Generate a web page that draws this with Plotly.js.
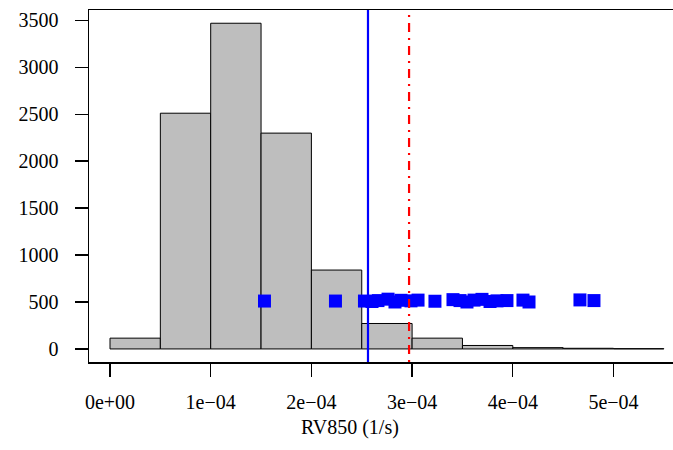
<!DOCTYPE html>
<html>
<head>
<meta charset="utf-8">
<script src="https://cdn.plot.ly/plotly-3.0.1.min.js"></script>
<style>
html,body{margin:0;padding:0;overflow:hidden;background:#fff;}
#chart{width:700px;height:450px;}
</style>
</head>
<body>
<div id="chart"></div>
<script>
// Histogram bins (left edges) and counts
var binStarts = [0, 5e-5, 1e-4, 1.5e-4, 2e-4, 2.5e-4, 3e-4, 3.5e-4, 4e-4, 4.5e-4, 5e-4];
var binWidth = 5e-5;
var counts = [115, 2510, 3468, 2298, 840, 271, 115, 37, 14, 7, 3];

// Observed values shown as squares
var obsX = [1.534e-4, 2.239e-4, 2.527e-4, 2.602e-4, 2.661e-4, 2.761e-4, 2.830e-4, 2.890e-4,
            2.989e-4, 3.059e-4, 3.227e-4, 3.406e-4, 3.476e-4, 3.545e-4, 3.615e-4, 3.694e-4,
            3.774e-4, 3.843e-4, 3.942e-4, 4.101e-4, 4.161e-4, 4.667e-4, 4.806e-4];
var obsY = [510, 510, 510, 505, 515, 530, 500, 518, 512, 520, 508, 525, 515, 500, 520, 528,
            505, 512, 515, 520, 500, 522, 515];

// Reference lines
var meanValue = 2.562e-4;
var thresholdValue = 2.97e-4;

var xTickVals = [0, 1e-4, 2e-4, 3e-4, 4e-4, 5e-4];
var xTickText = ["0e+00", "1e\u221204", "2e\u221204", "3e\u221204", "4e\u221204", "5e\u221204"];
var yTickVals = [0, 500, 1000, 1500, 2000, 2500, 3000, 3500];
var xLabel = "RV850 (1/s)";

var binCenters = binStarts.map(function(b){ return b + binWidth / 2; });

var FONT = 'Liberation Serif';

var traces = [
  {
    type: 'bar',
    x: binCenters,
    y: counts,
    width: binWidth,
    marker: {color: '#BEBEBE', line: {color: '#000000', width: 1}},
    hoverinfo: 'skip'
  },
  {
    type: 'scatter',
    mode: 'markers',
    x: obsX,
    y: obsY,
    marker: {symbol: 'square', size: 13, color: '#0000FF', line: {width: 0}},
    hoverinfo: 'skip'
  }
];

var layout = {
  width: 700,
  height: 450,
  margin: {l: 89, r: 14, t: 10, b: 88},
  paper_bgcolor: '#ffffff',
  plot_bgcolor: '#ffffff',
  showlegend: false,
  font: {family: FONT, size: 20, color: '#000000'},
  bargap: 0,
  xaxis: {
    range: [-2.085e-5, 5.72e-4],
    tickmode: 'array',
    tickvals: xTickVals,
    ticktext: xTickText,
    ticks: 'outside',
    ticklen: 13,
    tickwidth: 1.3,
    tickcolor: '#000000',
    tickfont: {family: FONT, size: 20, color: '#000000'},
    showline: true,
    mirror: true,
    linecolor: '#000000',
    linewidth: 1.5,
    showgrid: false,
    zeroline: false,
    ticklabelstandoff: 8
  },
  yaxis: {
    range: [-139, 3609],
    tickmode: 'array',
    tickvals: yTickVals,
    ticks: 'outside',
    ticklen: 13,
    tickwidth: 1.3,
    tickcolor: '#000000',
    tickfont: {family: FONT, size: 20, color: '#000000'},
    showline: true,
    mirror: true,
    linecolor: '#000000',
    linewidth: 1.5,
    showgrid: false,
    zeroline: false,
    ticklabelstandoff: 12
  },
  shapes: [
    {type: 'line', xref: 'x', yref: 'paper', x0: meanValue, x1: meanValue, y0: 0, y1: 1,
     line: {color: '#0000FF', width: 2.2}},
    {type: 'line', xref: 'x', yref: 'paper', x0: thresholdValue, x1: thresholdValue, y0: 0, y1: 1,
     line: {color: '#FF0000', width: 2.2, dash: '2px,6px,9px,6px'}}
  ],
  annotations: [
    {text: xLabel, xref: 'x', yref: 'paper', x: 2.383e-4, y: -0.187,
     xanchor: 'center', yanchor: 'middle', showarrow: false,
     font: {family: FONT, size: 20, color: '#000000'}}
  ]
};

Plotly.newPlot('chart', traces, layout, {staticPlot: true, displayModeBar: false});
</script>
</body>
</html>
